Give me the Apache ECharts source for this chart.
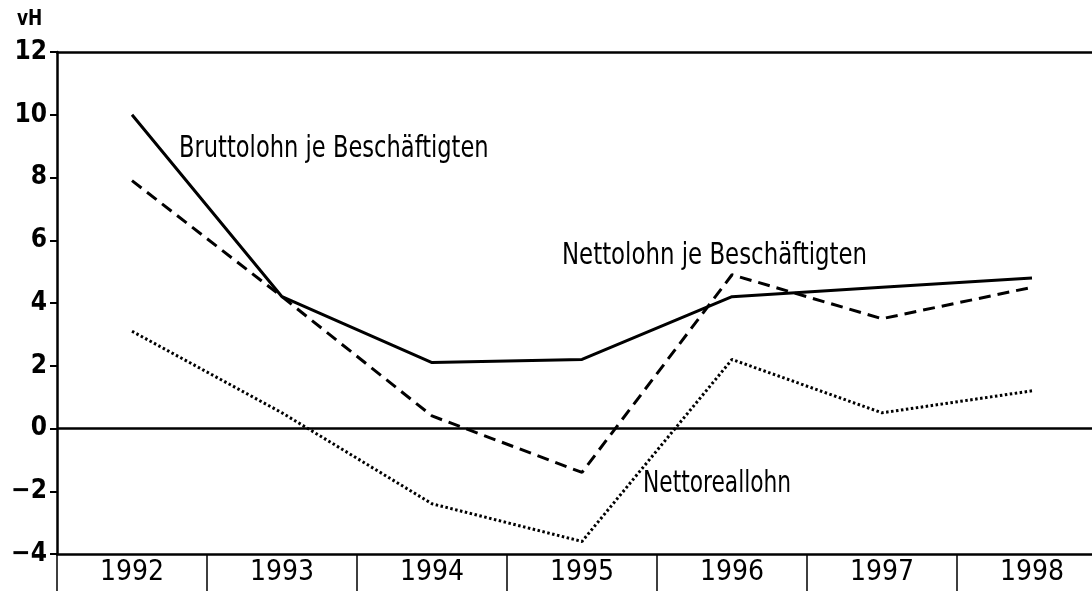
<!DOCTYPE html>
<html>
<head>
<meta charset="utf-8">
<script src="https://cdn.jsdelivr.net/npm/echarts@6/dist/echarts.min.js"></script>
<style>
html,body{margin:0;padding:0;background:#fff;overflow:hidden;width:1092px;height:591px;}
#c{width:1107px;height:591px;}
</style>
</head>
<body>
<div id="c"></div>
<script>
const years = ['1992','1993','1994','1995','1996','1997','1998'];
const brutto = [10.0, 4.2, 2.1, 2.2, 4.2, 4.5, 4.8];
const netto = [7.9, 4.2, 0.4, -1.4, 4.9, 3.5, 4.5];
const nettoreal = [3.1, 0.5, -2.4, -3.6, 2.2, 0.5, 1.2];
const yTicks = { min: -4, max: 12, interval: 2 };
const unitLabel = 'vH';
const seriesNames = ['Bruttolohn je Beschäftigten', 'Nettolohn je Beschäftigten', 'Nettoreallohn'];

const FONT = '"DejaVu Sans Condensed", sans-serif';
const chart = echarts.init(document.getElementById('c'), null, {renderer: 'canvas'});
const option = {
  animation: false,
  backgroundColor: '#fff',
  grid: { left: 57, right: 0, top: 52, bottom: 37 },
  xAxis: [{
    type: 'category', data: years, position: 'bottom', boundaryGap: true,
    axisLine: { show: true, onZero: false, lineStyle: { color: '#000', width: 2.5 } },
    axisTick: { show: true, inside: false, length: 40, lineStyle: { color: '#000', width: 1.5 } },
    axisLabel: { color: '#000', fontSize: 28, fontFamily: FONT, margin: 5 },
    splitLine: { show: false }
  }, {
    type: 'category', data: years, position: 'top', boundaryGap: true,
    axisLine: { show: true, onZero: false, lineStyle: { color: '#000', width: 2.5 } },
    axisTick: { show: false }, axisLabel: { show: false }, splitLine: { show: false }
  }],
  yAxis: {
    type: 'value', min: yTicks.min, max: yTicks.max, interval: yTicks.interval,
    axisLine: { show: true, onZero: false, lineStyle: { color: '#000', width: 2.5 } },
    axisTick: { show: true, length: 7, lineStyle: { color: '#000', width: 2 } },
    axisLabel: { color: '#000', fontSize: 26, fontWeight: 'bold', fontFamily: FONT, margin: 10,
      formatter: v => v < 0 ? '\u2212' + Math.abs(v) : String(v) },
    splitLine: { show: false }
  },
  series: [
    { name: seriesNames[0], type: 'line', data: brutto, symbol: 'none',
      lineStyle: { color: '#000', width: 3, type: 'solid' },
      markLine: { silent: true, symbol: 'none', label: { show: false },
        lineStyle: { color: '#000', width: 2.5, type: 'solid' }, data: [{ yAxis: 0 }] } },
    { name: seriesNames[1], type: 'line', data: netto, symbol: 'none',
      lineStyle: { color: '#000', width: 3, type: [12, 7] } },
    { name: seriesNames[2], type: 'line', data: nettoreal, symbol: 'none',
      lineStyle: { color: '#000', width: 3, type: [2.5, 2.5] } }
  ],
  graphic: [
    { type: 'text', x: 17, y: 20, scaleX: 0.9, style: { text: unitLabel, font: 'bold 21px ' + FONT, fill: '#000', verticalAlign: 'middle' } },
    { type: 'text', x: 179, y: 149, scaleX: 0.81, style: { text: seriesNames[0], font: '31px ' + FONT, fill: '#000', verticalAlign: 'middle' } },
    { type: 'text', x: 562, y: 256, scaleX: 0.82, style: { text: seriesNames[1], font: '31px ' + FONT, fill: '#000', verticalAlign: 'middle' } },
    { type: 'text', x: 643, y: 484, scaleX: 0.78, style: { text: seriesNames[2], font: '31px ' + FONT, fill: '#000', verticalAlign: 'middle' } }
  ]
};
chart.setOption(option);
</script>
</body>
</html>
